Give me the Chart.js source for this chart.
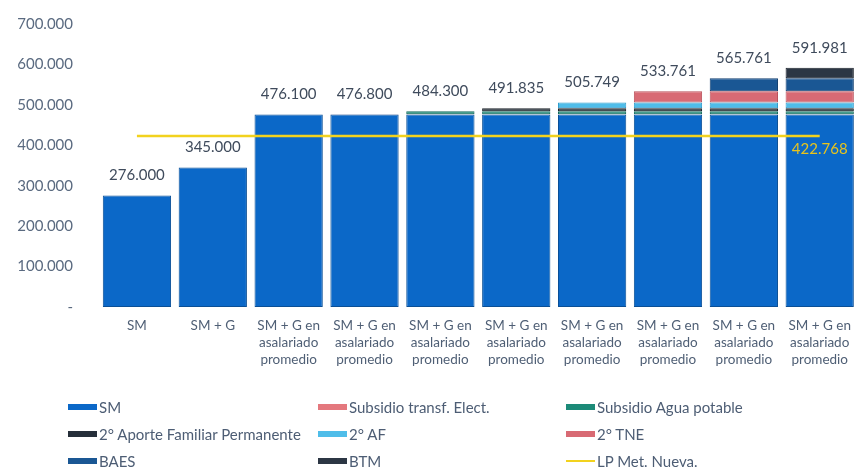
<!DOCTYPE html>
<html><head><meta charset="utf-8">
<script src="https://cdn.jsdelivr.net/npm/chart.js@4/dist/chart.umd.min.js"></script>
<style>
html,body{margin:0;padding:0;background:#fff;}
#wrap{position:relative;width:861px;height:468px;overflow:hidden;}
#c{position:absolute;left:0;top:0;}
#legend{position:absolute;left:0;top:0;width:861px;height:468px;font-family:Lato,sans-serif;font-size:15px;color:#4d5d74;pointer-events:none;}
.item{position:absolute;display:flex;align-items:center;white-space:nowrap;height:18px;transform:translateY(-9px);}
.sw{width:29px;margin-right:2px;}
</style></head>
<body>
<div id="wrap"><canvas id="c" width="861" height="380"></canvas><div id="legend"></div></div>
<script>
const categories = [
  'SM', 'SM + G',
  ['SM + G en','asalariado','promedio'], ['SM + G en','asalariado','promedio'],
  ['SM + G en','asalariado','promedio'], ['SM + G en','asalariado','promedio'],
  ['SM + G en','asalariado','promedio'], ['SM + G en','asalariado','promedio'],
  ['SM + G en','asalariado','promedio'], ['SM + G en','asalariado','promedio']
];
const sm            = [276000, 345000, 476100, 476100, 476100, 476100, 476100, 476100, 476100, 476100];
const subsElect     = [0, 0, 0, 700, 700, 700, 700, 700, 700, 700];
const subsAgua      = [0, 0, 0, 0, 7500, 7500, 7500, 7500, 7500, 7500];
const aporteFam     = [0, 0, 0, 0, 0, 7535, 7535, 7535, 7535, 7535];
const af2           = [0, 0, 0, 0, 0, 0, 13914, 13914, 13914, 13914];
const tne2          = [0, 0, 0, 0, 0, 0, 0, 28012, 28012, 28012];
const baes          = [0, 0, 0, 0, 0, 0, 0, 0, 32000, 32000];
const btm           = [0, 0, 0, 0, 0, 0, 0, 0, 0, 26220];
const lpMetNueva    = [422768, 422768, 422768, 422768, 422768, 422768, 422768, 422768, 422768, 422768];
const yTicks        = [0, 100000, 200000, 300000, 400000, 500000, 600000, 700000];

const fmt = v => v === 0 ? '-' : Math.round(v).toString().replace(/\B(?=(\d{3})+(?!\d))/g, '.');

function bar(label, data, color, border) {
  return {type:'bar', label, data, backgroundColor:color, borderColor:border, borderWidth:1,
    borderSkipped:false, stack:'total', order:1, barPercentage:0.9, categoryPercentage:1.0};
}
const datasets = [
  bar('SM', sm, '#0b68c8', '#0a4f96'),
  bar('Subsidio transf. Elect.', subsElect, '#e4787e', '#c85a62'),
  bar('Subsidio Agua potable', subsAgua, '#1c8a78', '#146a5c'),
  bar('2° Aporte Familiar Permanente', aporteFam, '#262f3a', '#1a2028'),
  bar('2° AF', af2, '#4fbde9', '#2f9ccc'),
  bar('2° TNE', tne2, '#d86a74', '#b8505a'),
  bar('BAES', baes, '#1a5794', '#123f70'),
  bar('BTM', btm, '#2c3644', '#1c232c'),
  {type:'line', label:'LP Met. Nueva.', data:lpMetNueva, borderColor:'#f2d21e', backgroundColor:'#f2d21e',
    borderWidth:2.5, pointRadius:0, stack:'lp', order:0, fill:false}
];

const labelsPlugin = {
  id:'vals',
  afterDatasetsDraw(chart) {
    const ctx = chart.ctx, xs = chart.scales.x, ys = chart.scales.y;
    ctx.save();
    ctx.font = '15px Lato';
    ctx.textAlign = 'center';
    ctx.textBaseline = 'middle';
    ctx.fillStyle = '#3f4b5c';
    categories.forEach((c, i) => {
      let tot = 0;
      chart.data.datasets.forEach(d => { if (d.type === 'bar') tot += d.data[i]; });
      ctx.fillText(fmt(tot), xs.getPixelForValue(i), ys.getPixelForValue(tot) - 20);
    });
    const last = lpMetNueva.length - 1;
    ctx.fillStyle = '#e8c41c';
    ctx.fillText(fmt(lpMetNueva[last]), xs.getPixelForValue(last), ys.getPixelForValue(lpMetNueva[last]) + 13);
    ctx.restore();
  }
};

const chart = new Chart(document.getElementById('c'), {
  data:{labels:categories, datasets},
  options:{
    responsive:false, animation:false,
    layout:{padding:{top:24, right:0, left:0, bottom:0}},
    plugins:{legend:{display:false}, tooltip:{enabled:false}},
    scales:{
      x:{stacked:true, grid:{display:false, drawTicks:false}, border:{display:false},
         ticks:{font:{family:'Lato', size:13.5, lineHeight:1.25}, color:'#4f5f75', padding:10, maxRotation:0, autoSkip:false},
         afterFit(s){ s.height = 73; }},
      y:{stacked:true, min:0, max:700000, grid:{display:false, drawTicks:false}, border:{display:false},
         afterBuildTicks(s){ s.ticks = yTicks.map(v => ({value:v})); },
         ticks:{font:{family:'Lato', size:15}, color:'#5a6a80', padding:26, callback:v => fmt(v)},
         afterFit(s){ s.width = 99; s.paddingTop = 0; s.paddingBottom = 0; }}
    }
  },
  plugins:[labelsPlugin]
});

// HTML legend built from the chart's datasets (3 columns, row-wise)
const lg = document.getElementById('legend');
const colX = [68, 318, 566], rowY = [407, 434, 461];
chart.data.datasets.forEach((d, i) => {
  const it = document.createElement('div');
  it.className = 'item';
  it.style.left = colX[i % 3] + 'px';
  it.style.top = rowY[Math.floor(i / 3)] + 'px';
  const sw = document.createElement('span');
  sw.className = 'sw';
  sw.style.background = d.type === 'line' ? d.borderColor : d.backgroundColor;
  sw.style.height = d.type === 'line' ? '2px' : '6px';
  const tx = document.createElement('span');
  tx.textContent = d.label;
  it.appendChild(sw); it.appendChild(tx);
  lg.appendChild(it);
});
</script>
</body></html>
